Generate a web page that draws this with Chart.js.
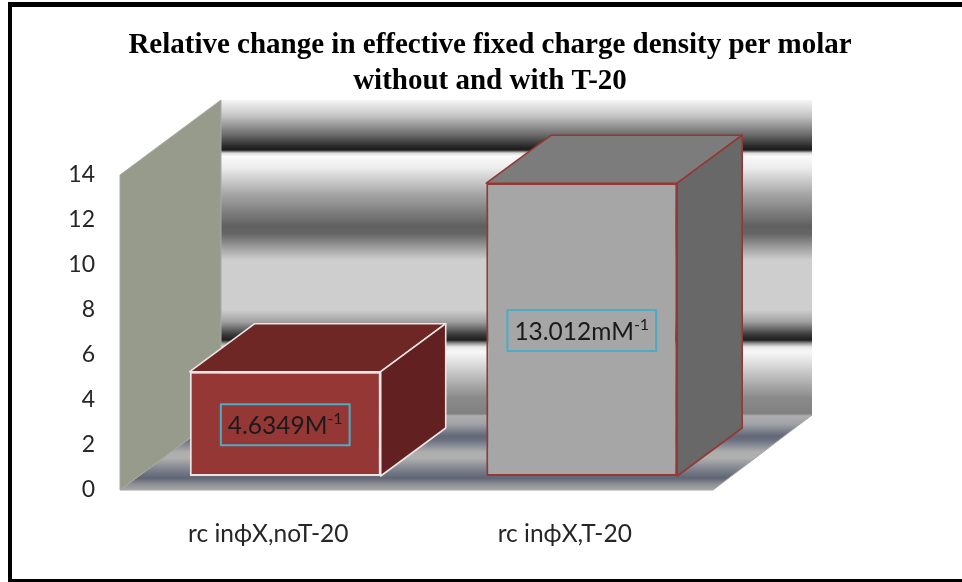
<!DOCTYPE html>
<html>
<head>
<meta charset="utf-8">
<title>Relative change in effective fixed charge density</title>
<script src="https://cdn.jsdelivr.net/npm/chart.js@4"></script>
<style>
    html, body { margin: 0; padding: 0; background: #fff; }
    #wrap { width: 962px; height: 582px; }
</style>
</head>
<body>
<div id="wrap"><canvas id="chargeChart"></canvas></div>
<script>
// Datos
const categories = ['rc in\u03d5X,noT-20', 'rc in\u03d5X,T-20'];
const values = [4.6349, 13.012];
const valueLabels = ['4.6349M', '13.012mM'];
const valueExponent = '-1';
const titleLines = ['Relative change in effective fixed charge density per molar', 'without and with T-20'];

const frontFill = ['#953735', '#a6a6a6'];
const topFill = ['#6e2724', '#7c7c7c'];
const sideFill = ['#622120', '#686868'];
const barEdge = ['#ece4e4', '#953735'];

const labelFont = 'Lato, "Open Sans", sans-serif';

// desplazamiento de la perspectiva
const wallDx = 101, wallDy = 75;
const barDx = 65, barDy = 48;
const barShiftX = 17, barShiftY = 14;

function polygon(ctx, pts, fill, stroke, width) {
    ctx.beginPath();
    pts.forEach((p, i) => i ? ctx.lineTo(p[0], p[1]) : ctx.moveTo(p[0], p[1]));
    ctx.closePath();
    ctx.fillStyle = fill;
    ctx.fill();
    if (stroke) {
        ctx.strokeStyle = stroke;
        ctx.lineWidth = width;
        ctx.lineJoin = 'round';
        ctx.stroke();
    }
}

function bandGradient(ctx, y0, y1, stops) {
    const g = ctx.createLinearGradient(0, y0, 0, y1);
    stops.forEach(s => g.addColorStop((s[0] - y0) / (y1 - y0), s[1]));
    return g;
}

// marco, paredes y suelo del grafico 3D
const walls = {
    id: 'walls',
    beforeDatasetsDraw(chart) {
        const ctx = chart.ctx, a = chart.chartArea;
        ctx.save();
        // marco negro
        ctx.fillStyle = '#000';
        ctx.fillRect(8, 2, 954, 5);
        ctx.fillRect(8, 2, 4, 580);
        ctx.fillRect(8, 579, 954, 3);

        const backTop = a.top - wallDy, backBottom = a.bottom - wallDy;
        const backL = a.left + wallDx, backR = a.right + wallDx - 2;
        ctx.fillStyle = bandGradient(ctx, backTop, backBottom, [
            [100, '#f6f6f6'], [116, '#c4c4c4'], [135, '#6a6a6a'], [147, '#262626'], [150, '#1c1c1c'],
            [153, '#d8d8d8'], [156, '#fafafa'], [168, '#ececec'], [195, '#a4a4a4'], [226, '#606060'],
            [234, '#666666'], [250, '#a8a8a8'], [260, '#cecece'], [310, '#cecece'], [322, '#a0a0a0'],
            [334, '#3e3e3e'], [340, '#1e1e1e'], [343, '#8a8a8a'], [347, '#e8e8e8'], [352, '#f8f8f8'],
            [372, '#c8c8c8'], [398, '#8a8a8a'], [415, '#808080']
        ]);
        ctx.fillRect(backL, backTop, backR - backL, backBottom - backTop);

        // suelo
        polygon(ctx, [[a.left, a.bottom], [backL, backBottom], [backR, backBottom], [a.right, a.bottom]],
            bandGradient(ctx, backBottom, a.bottom, [
                [415, '#b0b0b0'], [424, '#a0a2a6'], [436, '#626878'], [440, '#6a7080'], [452, '#aeaeae'],
                [458, '#b0b0b0'], [470, '#7c808c'], [478, '#5f6574'], [484, '#8c8e94'], [490, '#a8a8a8']
            ]), '#a2a2a2', 1);

        // pared izquierda
        polygon(ctx, [[a.left, a.top], [backL, backTop], [backL, backBottom], [a.left, a.bottom]], '#969b8b', '#a8a8a4', 1);

        // caras superior y lateral de cada barra
        ctx.translate(barShiftX, -barShiftY);
        chart.getDatasetMeta(0).data.forEach((bar, i) => {
            const l = bar.x - bar.width / 2, r = bar.x + bar.width / 2, t = bar.y, b = bar.base;
            const dx = barDx, dy = barDy;
            polygon(ctx, [[l, t], [l + dx, t - dy], [r + dx, t - dy], [r, t]], topFill[i], barEdge[i], 1.6);
            polygon(ctx, [[r, t], [r + dx, t - dy], [r + dx, b - dy], [r, b]], sideFill[i], barEdge[i], 1.6);
        });
        // las barras del frente usan el mismo desplazamiento
    },
    afterDatasetsDraw(chart) {
        const ctx = chart.ctx;
        chart.getDatasetMeta(0).data.forEach((bar, i) => {
            const cy = (bar.y + bar.base) / 2 + 1;
            ctx.font = '24.5px ' + labelFont;
            const w1 = ctx.measureText(valueLabels[i]).width;
            ctx.font = '16px ' + labelFont;
            const w2 = ctx.measureText(valueExponent).width;
            const bw = w1 + w2 + 14, bh = 41;
            const cx = bar.x;
            ctx.strokeStyle = '#4bacc6';
            ctx.lineWidth = 2;
            ctx.strokeRect(cx - bw / 2, cy - bh / 2, bw, bh);
            ctx.fillStyle = '#1a1a1a';
            ctx.textAlign = 'left';
            ctx.textBaseline = 'middle';
            ctx.font = '24.5px ' + labelFont;
            ctx.fillText(valueLabels[i], cx - (w1 + w2) / 2, cy + 1);
            ctx.font = '16px ' + labelFont;
            ctx.fillText(valueExponent, cx - (w1 + w2) / 2 + w1, cy - 6);
        });
        ctx.restore();
    }
};

new Chart(document.getElementById('chargeChart'), {
    type: 'bar',
    plugins: [walls],
    data: {
        labels: categories,
        datasets: [{
            label: 'Relative change',
            data: values,
            backgroundColor: frontFill,
            borderColor: barEdge,
            borderWidth: 2,
            borderSkipped: false,
            barPercentage: 0.644,
            categoryPercentage: 1,
            clip: false
        }]
    },
    options: {
        responsive: true,
        maintainAspectRatio: false,
        animation: false,
        layout: { padding: { left: 18, right: 0, top: 0, bottom: 0 } },
        plugins: {
            legend: { display: false },
            tooltip: { enabled: false },
            title: {
                display: true,
                text: titleLines,
                color: '#000',
                font: { family: '"Liberation Serif", serif', size: 29, weight: 'bold', lineHeight: 1.241 },
                padding: { top: 28, bottom: 75 }
            }
        },
        scales: {
            x: {
                grid: { display: false },
                border: { display: false },
                ticks: { color: '#262626', font: { family: labelFont, size: 24.5 }, padding: 21, maxRotation: 0 },
                afterFit(s) { s.height = 92; }
            },
            y: {
                min: 0,
                max: 14,
                grid: { display: false },
                border: { display: false },
                ticks: { stepSize: 2, color: '#262626', font: { family: labelFont, size: 23 }, padding: 17 },
                afterFit(s) { s.width = 102; }
            },
            // eje vacio: reserva el hueco de la perspectiva a la derecha
            yRight: {
                position: 'right',
                grid: { display: false },
                border: { display: false },
                ticks: { display: false },
                afterFit(s) { s.width = 249; }
            }
        }
    }
});
</script>
</body>
</html>
